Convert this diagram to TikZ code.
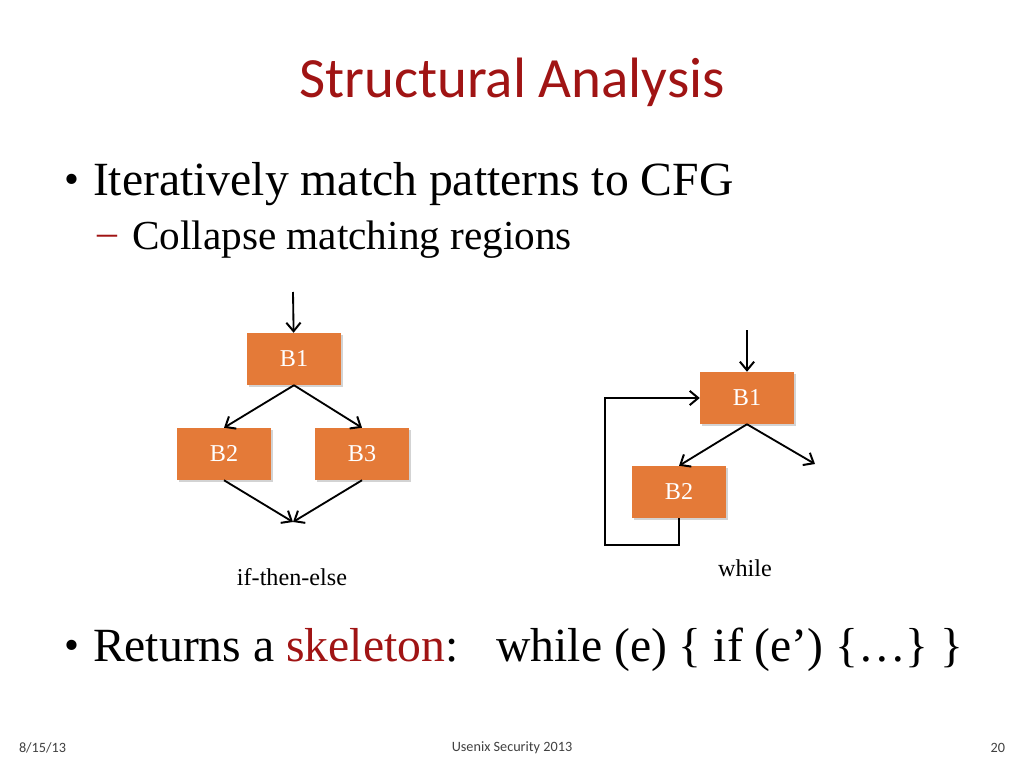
\documentclass[tikz,border=0pt]{standalone}
\usepackage{fontspec}
\setmainfont{Liberation Serif}
\newfontfamily\slidefont{Carlito}
\usetikzlibrary{shadows,arrows.meta}
\definecolor{titlered}{RGB}{160,20,20}
\definecolor{boxorange}{RGB}{228,122,56}
\tikzset{
  block/.style={fill=boxorange,minimum width=66pt,minimum height=36.5pt,text=white,font=\fontsize{17}{20}\selectfont,
    drop shadow={shadow xshift=1.5pt,shadow yshift=-1.5pt,opacity=0.35}},
  flow/.style={-{Straight Barb[length=6pt,width=10pt,line width=1.4pt]},line width=1.3pt},
  footer/.style={font=\slidefont\fontsize{10}{12}\selectfont,text=black!75}
}
\begin{document}
\begin{tikzpicture}[x=0.703pt,y=-0.703pt]
\useasboundingbox (0,0) rectangle (1024,768);
%Title and bullets
\node (title) at (512,82) {\slidefont\fontsize{40}{46}\selectfont\color{titlered}Structural Analysis};
\node (dot1) at (72,184) {\fontsize{30}{34}\selectfont •};
\node[anchor=west] (line1) at (88,184) {\fontsize{33.5}{38}\selectfont Iteratively match patterns to CFG};
\node[anchor=west] (dash1) at (92,240) {\fontsize{28}{32}\selectfont\color{titlered}–};
\node[anchor=west] (line2) at (127,240) {\fontsize{29}{32}\selectfont Collapse matching regions};
\node (dot2) at (72,650) {\fontsize{30}{34}\selectfont •};
\node[anchor=west] (line3) at (88,650) {\fontsize{33.5}{38}\selectfont Returns a \textcolor{titlered}{skeleton}:\hspace{0.8em}while (e) \{ if (e’) \{…\} \}};
%if-then-else
\coordinate (ite in) at (293,292);
\node[block] (ite b1) at (294,359) {B1};
\node[block] (ite b2) at (224,454) {B2};
\node[block] (ite b3) at (362,454) {B3};
\coordinate (ite join) at (293,522);
\draw[flow] (ite in) -- (ite b1);
\draw[flow] (ite b1.south) -- (ite b2.north);
\draw[flow] (ite b1.south) -- (ite b3.north);
\draw[flow] (ite b2.south) -- (ite join);
\draw[flow] (ite b3.south) -- (ite join);
\node (ite label) at (292,577) {\fontsize{17}{20}\selectfont if-then-else};
%while
\coordinate (wh in) at (747,330);
\node[block] (wh b1) at (747,398) {B1};
\node[block] (wh b2) at (679,492) {B2};
\coordinate (wh exit) at (815,464);
\draw[flow] (wh in) -- (wh b1);
\draw[flow] (wh b1.south) -- (wh b2.north);
\draw[flow] (wh b1.south) -- (wh exit);
\draw[flow] (wh b2.south) -- (679,545) -- (605,545) -- (605,398) -- (wh b1.west);
\node (wh label) at (745,568) {\fontsize{17}{20}\selectfont while};
%footer
\node[footer,anchor=west] (date) at (14,748) {8/15/13};
\node[footer] (venue) at (512,748) {Usenix Security 2013};
\node[footer,anchor=east] (page) at (1010,748) {20};
\end{tikzpicture}
\end{document}
